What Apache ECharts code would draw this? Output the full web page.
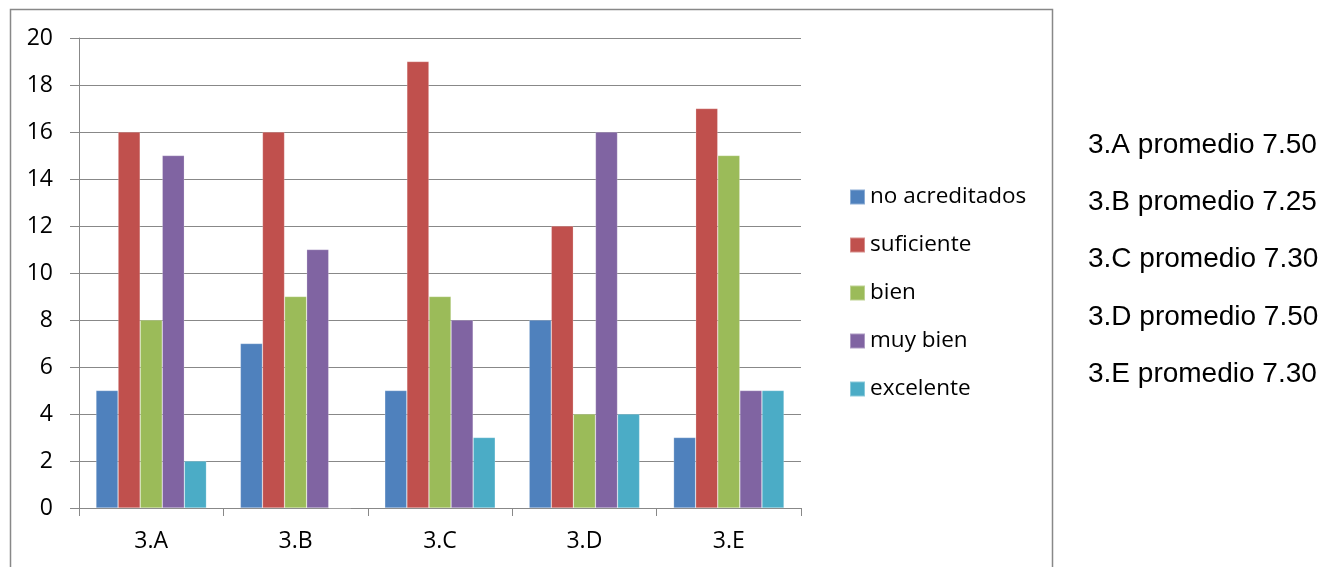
<!DOCTYPE html>
<html>
<head>
<meta charset="utf-8">
<script src="https://cdn.jsdelivr.net/npm/echarts@6/dist/echarts.min.js"></script>
<style>
html,body{margin:0;padding:0;background:#fff;}
#c{width:1331px;height:567px;}
</style>
</head>
<body>
<div id="c"></div>
<script>
const categories = ['3.A','3.B','3.C','3.D','3.E'];
const seriesNames = ['no acreditados','suficiente','bien','muy bien','excelente'];
const noAcreditados = [5,7,5,8,3];
const suficiente = [16,16,19,12,17];
const bien = [8,9,9,4,15];
const muyBien = [15,11,8,16,5];
const excelente = [2,0,3,4,5];
const promedios = ['7.50','7.25','7.30','7.50','7.30'];

const colors = ['#4F81BD','#C0504D','#9BBB59','#8064A2','#4BACC6'];
const values = [noAcreditados, suficiente, bien, muyBien, excelente];
const font = 'Open Sans';

const chart = echarts.init(document.getElementById('c'));
const sideTexts = categories.map((c, i) => ({
  type: 'text',
  x: 1088,
  y: 145 + i * 57.3,
  style: { text: c + ' promedio ' + promedios[i], fontSize: 28, fontFamily: 'Liberation Sans', fill: '#000', verticalAlign: 'middle', align: 'left' }
}));
chart.setOption({
  animation: false,
  color: colors,
  grid: { left: 79, right: 530, top: 38, bottom: 59, containLabel: false },
  legend: {
    orient: 'vertical',
    left: 844,
    top: 180,
    itemWidth: 15,
    itemHeight: 15,
    itemGap: 24,
    icon: 'rect',
    textStyle: { fontSize: 22.5, lineHeight: 24, color: '#000', fontFamily: font },
    data: seriesNames
  },
  xAxis: {
    type: 'category',
    data: categories,
    axisLine: { lineStyle: { color: '#888', width: 1 } },
    axisTick: { show: true, length: 8, lineStyle: { color: '#888' }, alignWithLabel: false },
    axisLabel: { fontSize: 23, color: '#000', fontFamily: font, margin: 22 }
  },
  yAxis: {
    type: 'value',
    min: 0, max: 20, interval: 2,
    axisLine: { show: true, lineStyle: { color: '#888', width: 1 } },
    axisTick: { show: true, length: 9, lineStyle: { color: '#888' } },
    splitLine: { lineStyle: { color: '#888', width: 1 } },
    axisLabel: { fontSize: 23, color: '#000', fontFamily: font, margin: 26 }
  },
  series: seriesNames.map((n, i) => ({
    name: n,
    type: 'bar',
    data: values[i],
    barGap: '0%',
    barCategoryGap: '23.5%',
    itemStyle: { color: colors[i], borderColor: 'rgba(255,255,255,0.35)', borderWidth: 0.6 }
  })),
  graphic: [
    { type: 'rect', shape: { x: 10.5, y: 9.5, width: 1042, height: 600 }, style: { fill: 'none', stroke: '#888', lineWidth: 1.5 }, silent: true, z: -1 }
  ].concat(sideTexts)
});
</script>
</body>
</html>
